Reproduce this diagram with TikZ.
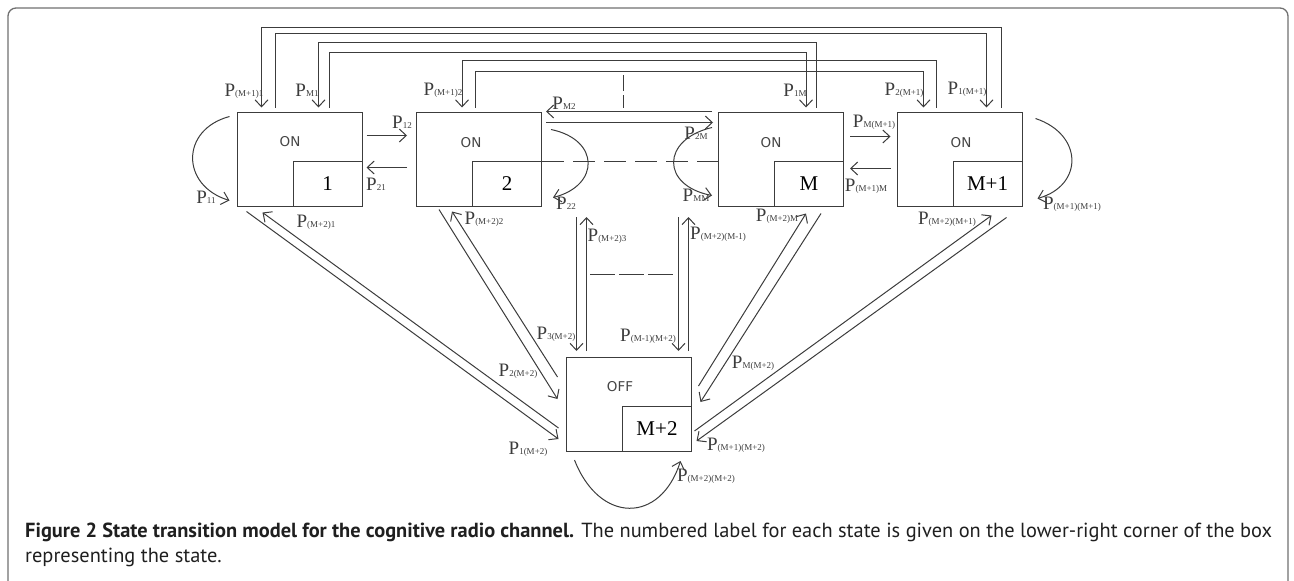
\documentclass[tikz,border=0pt]{standalone}
\usepackage{fontspec}
\setmainfont{Liberation Serif}
\newfontfamily\capfont{PT Sans}
\newfontfamily\onfont{DejaVu Sans}
\usetikzlibrary{arrows.meta,calc}
\definecolor{linec}{HTML}{3C3C3C}
\definecolor{framec}{HTML}{707070}
\definecolor{onc}{HTML}{444444}
\newcommand{\plab}[1]{{\fontsize{19}{19}\selectfont P}{\fontsize{9}{9}\selectfont #1}}
\begin{document}
\begin{tikzpicture}[x=1pt,y=-1pt,
  ln/.style={draw=linec, line width=1pt},
  arr/.style={ln, -{Straight Barb[length=7pt,width=13pt,line width=1pt]}},
  dsh/.style={ln, dash pattern=on 22pt off 9pt},
  statebox/.style={draw=linec, line width=1pt, minimum width=125pt, minimum height=94pt, inner sep=0pt},
  numbox/.style={draw=linec, line width=1pt, minimum width=69pt, minimum height=45pt, inner sep=0pt, anchor=south east, font=\fontsize{21}{21}\selectfont},
  onlbl/.style={font=\onfont\fontsize{13.5}{13.5}\selectfont, text=onc, inner sep=0pt},
  plbl/.style={inner sep=0pt, text=linec},
  frame/.style={draw=framec, line width=1.3pt, rounded corners=8pt},
  captext/.style={anchor=base west, inner sep=0pt, font=\capfont\fontsize{20.4}{20.4}\selectfont, text=black!88}]
\useasboundingbox (0,0) rectangle (1294,581);
% frame
\draw[frame] (8,581) -- (8,8) -- (1288,8) -- (1288,581);

% state boxes
\node[statebox] (b1) at (299.5,159) {};
\node[statebox] (b2) at (479,159) {};
\node[statebox] (bM) at (781,159) {};
\node[statebox] (b5) at (959.5,159) {};
\node[statebox] (b6) at (629,404.5) {};
\node[numbox] (n1) at (b1.south east) {1};
\node[numbox] (n2) at (b2.south east) {2};
\node[numbox] (nM) at (bM.south east) {M};
\node[numbox] (n5) at (b5.south east) {M+1};
\node[numbox] (n6) at (b6.south east) {M+2};
\node[onlbl] (on1) at (290,142) {ON};
\node[onlbl] (on2) at (471,143) {ON};
\node[onlbl] (onM) at (771,143) {ON};
\node[onlbl] (on5) at (961,143) {ON};
\node[onlbl] (on6) at (620,387) {OFF};

% top long connectors
\draw[arr] ($(b5.north west)+(105,-4)$) -- ++(0,-80) -| ($(b1.north west)+(25,-4)$);
\draw[arr] ($(b1.north west)+(39,-4)$) -- ++(0,-74) -| ($(b5.north west)+(90,-4)$);
\draw[arr] ($(bM.north west)+(98,-4)$) -- ++(0,-65) -| ($(b1.north west)+(82,-4)$);
\draw[arr] ($(b1.north west)+(93,-4)$) -- ++(0,-55) -| ($(bM.north west)+(88,-4)$);
\draw[arr] ($(b5.north west)+(40,-4)$) -- ++(0,-47) -| ($(b2.north west)+(46,-4)$);
\draw[arr] ($(b2.north west)+(59,-4)$) -- ++(0,-36) -| ($(b5.north west)+(27,-4)$);
\coordinate (dvt) at (623,75);
\coordinate (dvb) at (623,108);
\draw[ln, dash pattern=on 16pt off 4pt] (dvt) -- (dvb);

% horizontal neighbours
\draw[arr] ($(b1.north east)+(4,24)$) -- ($(b2.north west)+(-9,24)$);
\draw[arr] ($(b2.north west)+(-9,56)$) -- ($(b1.north east)+(4,56)$);
\draw[arr] ($(bM.north west)+(-6,0)$) -- ($(b2.north east)+(4,0)$);
\draw[arr] ($(b2.north east)+(4,11)$) -- ($(bM.north west)+(-5,11)$);
\draw[dsh] ($(b2.east)+(0,2)$) -- ($(bM.west)+(0,2)$);
\draw[arr] ($(bM.north east)+(6,25)$) -- ($(b5.north west)+(-6,25)$);
\draw[arr] ($(b5.north west)+(-6,57)$) -- ($(bM.north east)+(6,57)$);

% self loops
\draw[arr] ($(b1.north west)+(-7,5)$) .. controls +(-49,13) and +(-49,-15) .. ($(b1.south west)+(-7,-6)$);
\draw[arr] ($(b2.north east)+(9,18)$) .. controls +(49,10) and +(47,-12) .. ($(b2.south east)+(11,-9)$);
\draw[arr] ($(bM.north west)+(-6,16)$) .. controls +(-51,12) and +(-51,-10) .. ($(bM.south west)+(-6,-11)$);
\draw[arr] ($(b5.north east)+(13,7)$) .. controls +(48,16) and +(46,-13) .. ($(b5.south east)+(15,-8)$);
\draw[arr] ($(b6.south west)+(8.5,8)$) .. controls +(25,64) and +(-20,63) .. ($(b6.south east)+(-11.5,9)$);

% vertical connectors to OFF state (states 3 and M-1)
\coordinate (v3a) at ($(b6.north west)+(10.5,-140)$);
\coordinate (v3b) at ($(b6.north west)+(20.5,-140)$);
\coordinate (vma) at ($(b6.north east)+(-13.5,-140)$);
\coordinate (vmb) at ($(b6.north east)+(-3.5,-140)$);
\draw[arr] (v3a) -- ($(b6.north west)+(10.5,-6)$);
\draw[arr] ($(b6.north west)+(20.5,-6)$) -- (v3b);
\draw[arr] (vma) -- ($(b6.north east)+(-13.5,-6)$);
\draw[arr] ($(b6.north east)+(-3.5,-6)$) -- (vmb);
\coordinate (dhl) at (590,274);
\coordinate (dhr) at (673,274);
\draw[ln, dash pattern=on 25pt off 4pt] (dhl) -- (dhr);

% diagonals
\draw[arr] ($(b1.south west)+(10,5)$) -- ($(b6.south west)+(-7.5,-13)$);
\draw[arr] ($(b6.south west)+(-7.5,-24)$) -- ($(b1.south west)+(26,6)$);
\draw[arr] ($(b2.south west)+(23,3)$) -- ($(b6.north west)+(-8.5,42)$);
\draw[arr] ($(b6.north west)+(-8.5,20)$) -- ($(b2.south west)+(36,5)$);
\draw[arr] ($(bM.south west)+(103,7)$) -- ($(b6.north east)+(8.5,45)$);
\draw[arr] ($(b6.north east)+(6.5,29)$) -- ($(bM.south west)+(88,7)$);
\draw[arr] ($(b5.south west)+(110,11)$) -- ($(b6.south east)+(4.5,-11)$);
\draw[arr] ($(b6.south east)+(2.5,-21)$) -- ($(b5.south west)+(95,9)$);

% labels
\node[plbl] (l01) at (244,91) {\plab{(M+1)1}};
\node[plbl] (l02) at (307,90) {\plab{M1}};
\node[plbl] (l03) at (443,90) {\plab{(M+1)2}};
\node[plbl] (l04) at (795,90) {\plab{1M}};
\node[plbl] (l05) at (904,90) {\plab{2(M+1)}};
\node[plbl] (l06) at (967,89) {\plab{1(M+1)}};
\node[plbl] (l07) at (402,122) {\plab{12}};
\node[plbl] (l08) at (376,184) {\plab{21}};
\node[plbl] (l09) at (206,197) {\plab{11}};
\node[plbl] (l10) at (566,203) {\plab{22}};
\node[plbl] (l11) at (564,103) {\plab{M2}};
\node[plbl] (l12) at (696,133) {\plab{2M}};
\node[plbl] (l13) at (696,195) {\plab{MM}};
\node[plbl] (l14) at (874,122) {\plab{M(M+1)}};
\node[plbl] (l15) at (866,186) {\plab{(M+1)M}};
\node[plbl] (l16) at (1072,204) {\plab{(M+1)(M+1)}};
\node[plbl] (l17) at (947,219) {\plab{(M+2)(M+1)}};
\node[plbl] (l18) at (316,222) {\plab{(M+2)1}};
\node[plbl] (l19) at (484,219) {\plab{(M+2)2}};
\node[plbl] (l20) at (556,334) {\plab{3(M+2)}};
\node[plbl] (l21) at (518,371) {\plab{2(M+2)}};
\node[plbl] (l22) at (607,236) {\plab{(M+2)3}};
\node[plbl] (l23) at (718,234) {\plab{(M+2)(M-1)}};
\node[plbl] (l24) at (648,336) {\plab{(M-1)(M+2)}};
\node[plbl] (l25) at (753,363) {\plab{M(M+2)}};
\node[plbl] (l26) at (777,216) {\plab{(M+2)M}};
\node[plbl] (l27) at (528,449) {\plab{1(M+2)}};
\node[plbl] (l28) at (736,445) {\plab{(M+1)(M+2)}};
\node[plbl] (l29) at (706,476) {\plab{(M+2)(M+2)}};

% caption
\node[captext] (cap1) at (25,537)
  {\textbf{Figure 2 State transition model for the cognitive radio channel.} The numbered label for each state is given on the lower-right corner of the box};
\node[captext] (cap2) at (25,562)
  {representing the state.};
\end{tikzpicture}
\end{document}
